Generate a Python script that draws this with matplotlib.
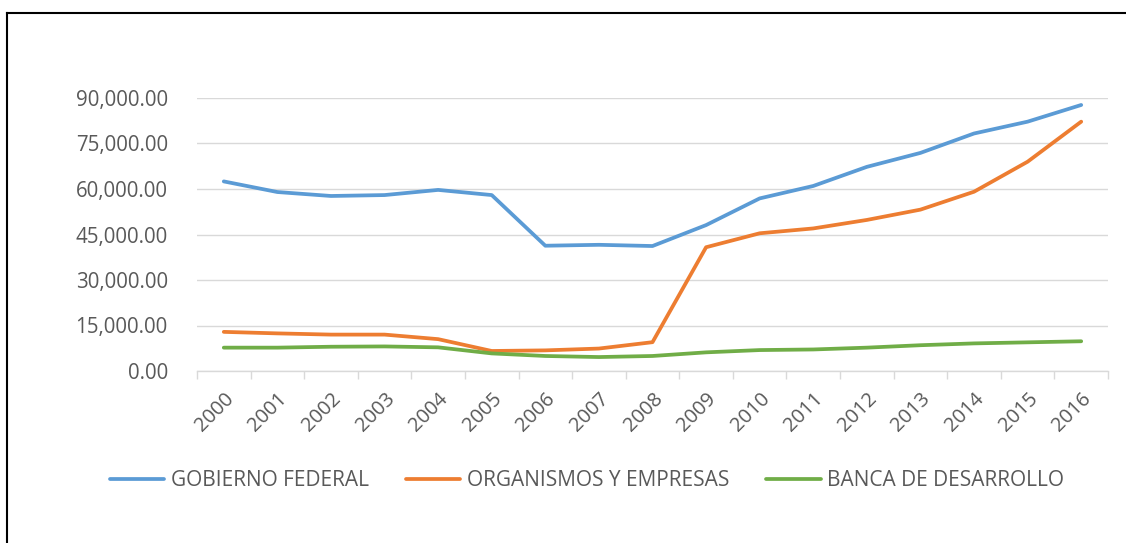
import matplotlib
matplotlib.use("Agg")
import matplotlib.pyplot as plt
from matplotlib.lines import Line2D
from matplotlib.ticker import FuncFormatter

# data
years = [str(y) for y in range(2000, 2017)]
gobierno = [62500, 59000, 57700, 58000, 59700, 58000, 41300, 41600, 41200,
            48100, 56900, 61000, 67300, 71900, 78300, 82200, 87700]
organismos = [12900, 12400, 12000, 12000, 10500, 6600, 6800, 7400, 9500,
              40800, 45400, 47000, 49800, 53200, 59100, 69000, 82200]
banca = [7700, 7700, 8000, 8100, 7800, 5800, 4950, 4600, 4950,
         6150, 6900, 7100, 7700, 8500, 9100, 9450, 9800]
labels = ["GOBIERNO FEDERAL", "ORGANISMOS Y EMPRESAS", "BANCA DE DESARROLLO"]
colors = ["#5B9BD5", "#ED7D31", "#70AD47"]

plt.rcParams['font.family'] = ['Open Sans', 'DejaVu Sans']
gray = "#595959"

fig = plt.figure(figsize=(11.26, 5.43), dpi=100)
ax = fig.add_axes([197/1126, 1-371/543, (1108-197)/1126, (371-98)/543])

x = list(range(len(years)))
for series, lab, c in zip([gobierno, organismos, banca], labels, colors):
    ax.plot(x, series, color=c, lw=2.7, label=lab, solid_capstyle='round')

ax.set_xlim(-0.5, len(years) - 0.5)
ax.set_ylim(0, 90000)
ax.set_yticks(range(0, 90001, 15000))
ax.yaxis.set_major_formatter(FuncFormatter(lambda v, p: f"{v:,.2f}"))
ax.grid(axis='y', color="#d9d9d9", lw=1)
ax.set_axisbelow(True)
for s in ['left', 'right', 'top']:
    ax.spines[s].set_visible(False)
ax.spines['bottom'].set_color("#d9d9d9")
ax.spines['bottom'].set_linewidth(1)

ax.set_xticks(x)
ax.set_xticklabels(years, rotation=45, ha='right', rotation_mode='anchor')
ax.set_xticks([i - 0.5 for i in range(len(years) + 1)], minor=True)
ax.tick_params(axis='x', which='major', length=0, pad=13, labelsize=14.5, labelcolor=gray)
ax.tick_params(axis='x', which='minor', length=6, color="#d9d9d9", width=1)
ax.tick_params(axis='y', length=0, pad=21, labelsize=14.8, labelcolor=gray)

leg = ax.legend(loc='center', bbox_to_anchor=(587/1126, 1-481/543), bbox_transform=fig.transFigure,
                ncol=3, frameon=False, fontsize=15, handlelength=2.6, columnspacing=1.8,
                handletextpad=0.3)
for t in leg.get_texts():
    t.set_color(gray)

# outer frame (only top and left visible in the picture)
fig.add_artist(Line2D([7.5/1126, 7.5/1126], [0, 1-13/543], color='black', lw=1.5, transform=fig.transFigure))
fig.add_artist(Line2D([7.5/1126, 1], [1-13/543, 1-13/543], color='black', lw=1.5, transform=fig.transFigure))

fig.savefig("out.png", dpi=100)
